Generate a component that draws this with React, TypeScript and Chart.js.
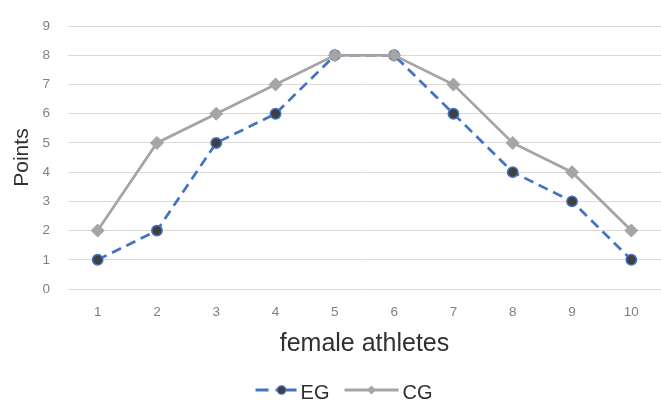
import React, { useEffect, useRef } from "react";
import { Chart, registerables } from "chart.js";

Chart.register(...registerables);

const categories = ["1", "2", "3", "4", "5", "6", "7", "8", "9", "10"];
const egValues = [1, 2, 5, 6, 8, 8, 6, 4, 3, 1];
const cgValues = [2, 5, 6, 7, 8, 8, 7, 5, 4, 2];
const yMin = 0;
const yMax = 9;
const seriesNames = ["EG", "CG"];

const EG_BLUE = "#4472C4";
const EG_FILL = "#404040";
const CG_GRAY = "#A5A5A5";
const TEXT_DARK = "#303030";
const TICK_GRAY = "#808080";
const GRID = "#D9D9D9";
const FONT = "'Liberation Sans', Arial, sans-serif";

// legend icon geometry
const BOX_W = 62;
const IMG_W = BOX_W + 13;
const IMG_H = 20;

function makeIcon(kind: "eg" | "cg"): HTMLCanvasElement {
  const c = document.createElement("canvas");
  c.width = IMG_W;
  c.height = IMG_H;
  const ctx = c.getContext("2d")!;
  const cy = IMG_H / 2 - 3;
  const right = IMG_W - 0.5;
  if (kind === "eg") {
    const left = right - 41;
    ctx.strokeStyle = EG_BLUE;
    ctx.lineWidth = 3;
    ctx.beginPath();
    ctx.moveTo(left, cy);
    ctx.lineTo(left + 13, cy);
    ctx.moveTo(left + 20, cy);
    ctx.lineTo(right, cy);
    ctx.stroke();
    ctx.beginPath();
    ctx.arc(left + 26, cy, 4.2, 0, Math.PI * 2);
    ctx.fillStyle = EG_FILL;
    ctx.fill();
    ctx.lineWidth = 1.2;
    ctx.strokeStyle = EG_BLUE;
    ctx.stroke();
  } else {
    const left = right - 54;
    ctx.strokeStyle = CG_GRAY;
    ctx.lineWidth = 3;
    ctx.beginPath();
    ctx.moveTo(left, cy);
    ctx.lineTo(right, cy);
    ctx.stroke();
    const mx = left + 27;
    ctx.fillStyle = CG_GRAY;
    ctx.beginPath();
    ctx.moveTo(mx, cy - 4.5);
    ctx.lineTo(mx + 4.5, cy);
    ctx.lineTo(mx, cy + 4.5);
    ctx.lineTo(mx - 4.5, cy);
    ctx.closePath();
    ctx.fill();
  }
  return c;
}

export default function App() {
  const ref = useRef<HTMLCanvasElement | null>(null);

  useEffect(() => {
    if (!ref.current) return;
    const egIcon = makeIcon("eg");
    const cgIcon = makeIcon("cg");
    const chart = new Chart(ref.current, {
      type: "line",
      data: {
        labels: categories,
        datasets: [
          {
            label: seriesNames[0],
            data: egValues,
            order: 1,
            borderColor: EG_BLUE,
            borderWidth: 2.75,
            borderDash: [10, 6],
            pointStyle: "circle",
            pointRadius: 5.2,
            pointBackgroundColor: EG_FILL,
            pointBorderColor: EG_BLUE,
            pointBorderWidth: 1.5,
            tension: 0,
            fill: false,
          },
          {
            label: seriesNames[1],
            data: cgValues,
            order: 0,
            borderColor: CG_GRAY,
            borderWidth: 2.75,
            pointStyle: "rectRot",
            pointRadius: 6.5,
            pointBackgroundColor: CG_GRAY,
            pointBorderColor: CG_GRAY,
            pointBorderWidth: 1,
            tension: 0,
            fill: false,
          },
        ],
      },
      options: {
        responsive: true,
        maintainAspectRatio: false,
        animation: false,
        layout: { autoPadding: false, padding: { top: 23, left: 0, right: 0, bottom: -12 } },
        plugins: {
          tooltip: { enabled: false },
          legend: {
            position: "bottom",
            labels: {
              usePointStyle: true,
              pointStyleWidth: BOX_W,
              boxHeight: 20,
              padding: 1,
              font: { family: FONT, size: 20 },
              color: TEXT_DARK,
              generateLabels: () => [
                {
                  text: seriesNames[0],
                  pointStyle: egIcon,
                  fillStyle: EG_FILL,
                  strokeStyle: EG_BLUE,
                  lineWidth: 0,
                  hidden: false,
                  datasetIndex: 0,
                  fontColor: TEXT_DARK,
                },
                {
                  text: seriesNames[1],
                  pointStyle: cgIcon,
                  fillStyle: CG_GRAY,
                  strokeStyle: CG_GRAY,
                  lineWidth: 0,
                  hidden: false,
                  datasetIndex: 1,
                  fontColor: TEXT_DARK,
                },
              ],
            },
          },
        },
        scales: {
          x: {
            type: "category",
            offset: true,
            grid: { display: false, drawTicks: false },
            border: { display: false },
            ticks: {
              color: TICK_GRAY,
              font: { family: FONT, size: 13.5 },
              padding: 15,
              autoSkip: false,
              maxRotation: 0,
            },
            title: {
              display: true,
              text: "female athletes",
              color: TEXT_DARK,
              font: { family: FONT, size: 25 },
              padding: { top: 0, bottom: 23 },
            },
            afterFit: (s: any) => {
              s.height = 93;
            },
          },
          y: {
            min: yMin,
            max: yMax,
            grid: { color: GRID, lineWidth: 1, drawTicks: false },
            border: { display: false },
            ticks: {
              stepSize: 1,
              color: TICK_GRAY,
              font: { family: FONT, size: 13.5 },
              padding: 18,
            },
            title: {
              display: true,
              text: "Points",
              color: TEXT_DARK,
              font: { family: FONT, size: 21 },
              padding: { top: 9.5, bottom: 0 },
            },
            afterFit: (s: any) => {
              s.width = 68;
            },
          },
        },
      },
    });
    return () => chart.destroy();
  }, []);

  return (
    <div style={{ position: "fixed", left: 0, top: 0, width: 661, height: 401, background: "#fff" }}>
      <canvas ref={ref} style={{ display: "block" }} />
    </div>
  );
}
